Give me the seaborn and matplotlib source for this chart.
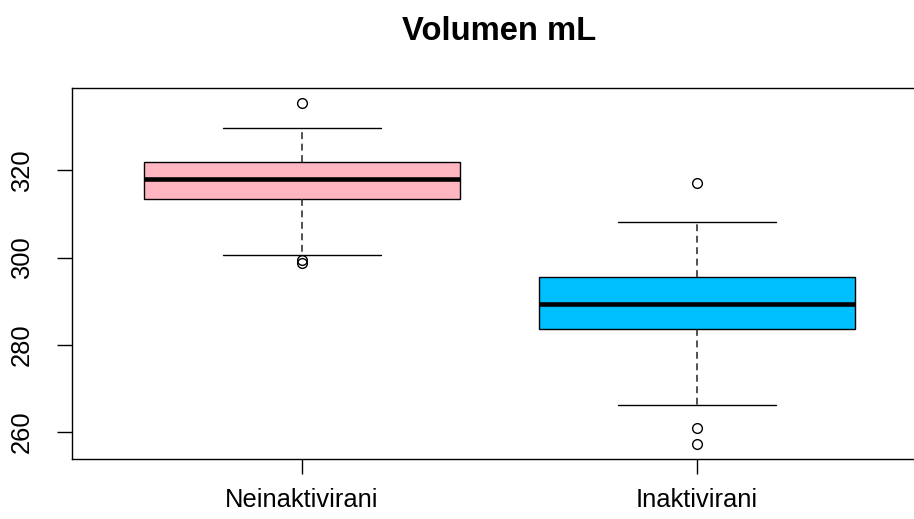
import matplotlib
matplotlib.use("Agg")
import matplotlib.pyplot as plt
import seaborn as sns
import pandas as pd

grupe = ["Neinaktivirani", "Inaktivirani"]
neinaktivirani = [298.7, 299.5, 300.7, 305.2, 309.8, 313.4, 314.6, 315.9, 316.8, 317.4, 318.05,
                  318.9, 319.6, 320.4, 321.1, 321.9, 323.5, 325.0, 327.2, 329.7, 335.55]
inaktivirani = [257.2, 260.8, 266.1, 272.4, 278.9, 283.6, 285.0, 286.3, 287.4, 288.5, 289.45,
                290.6, 291.8, 292.9, 294.2, 295.5, 298.3, 301.7, 305.0, 308.1, 317.1]
boje = ["#FFB6C1", "#00BFFF"]
y_ticks = [260, 280, 300, 320]

df = pd.DataFrame({
    "grupa": [grupe[0]] * len(neinaktivirani) + [grupe[1]] * len(inaktivirani),
    "vol": neinaktivirani + inaktivirani,
})

sns.set_style("ticks")
plt.rcParams['font.family'] = ['Liberation Sans', 'DejaVu Sans']

fig = plt.figure(figsize=(9.14, 5.19), dpi=100)
ax = fig.add_axes([71.7/914, 60/519, 855.3/914, 371.5/519])

sns.boxplot(data=df, x="grupa", y="vol", hue="grupa", palette=boje, legend=False,
            order=grupe, hue_order=grupe, width=0.8, saturation=1,
            linecolor="black", linewidth=1.0, fliersize=7,
            whiskerprops=dict(linestyle=(0, (4.5, 3)), color="#222222", linewidth=1.1),
            capprops=dict(color="black", linewidth=1.0),
            medianprops=dict(color="black", linewidth=3.3),
            flierprops=dict(marker="o", markerfacecolor="none", markeredgecolor="black",
                            markeredgewidth=1.0),
            ax=ax)

ax.set_xlim(-0.583, 1.583)
ax.set_ylim(253.8, 339.0)
ax.set_yticks(y_ticks)
ax.set_xlabel("")
ax.set_ylabel("")
for s in ax.spines.values():
    s.set_visible(True)
    s.set_color("black")
    s.set_linewidth(1.0)

ax.tick_params(axis="both", length=11, width=1.0, colors="black", labelsize=18.4)
ax.tick_params(axis="y", pad=16)
ax.tick_params(axis="x", pad=10)
for lab in ax.get_yticklabels():
    lab.set_rotation(90)
    lab.set_va("center")

ax.set_title("Volumen mL", fontsize=23.6, fontweight="bold", pad=34, color="black")

fig.savefig("out.png", dpi=100)
